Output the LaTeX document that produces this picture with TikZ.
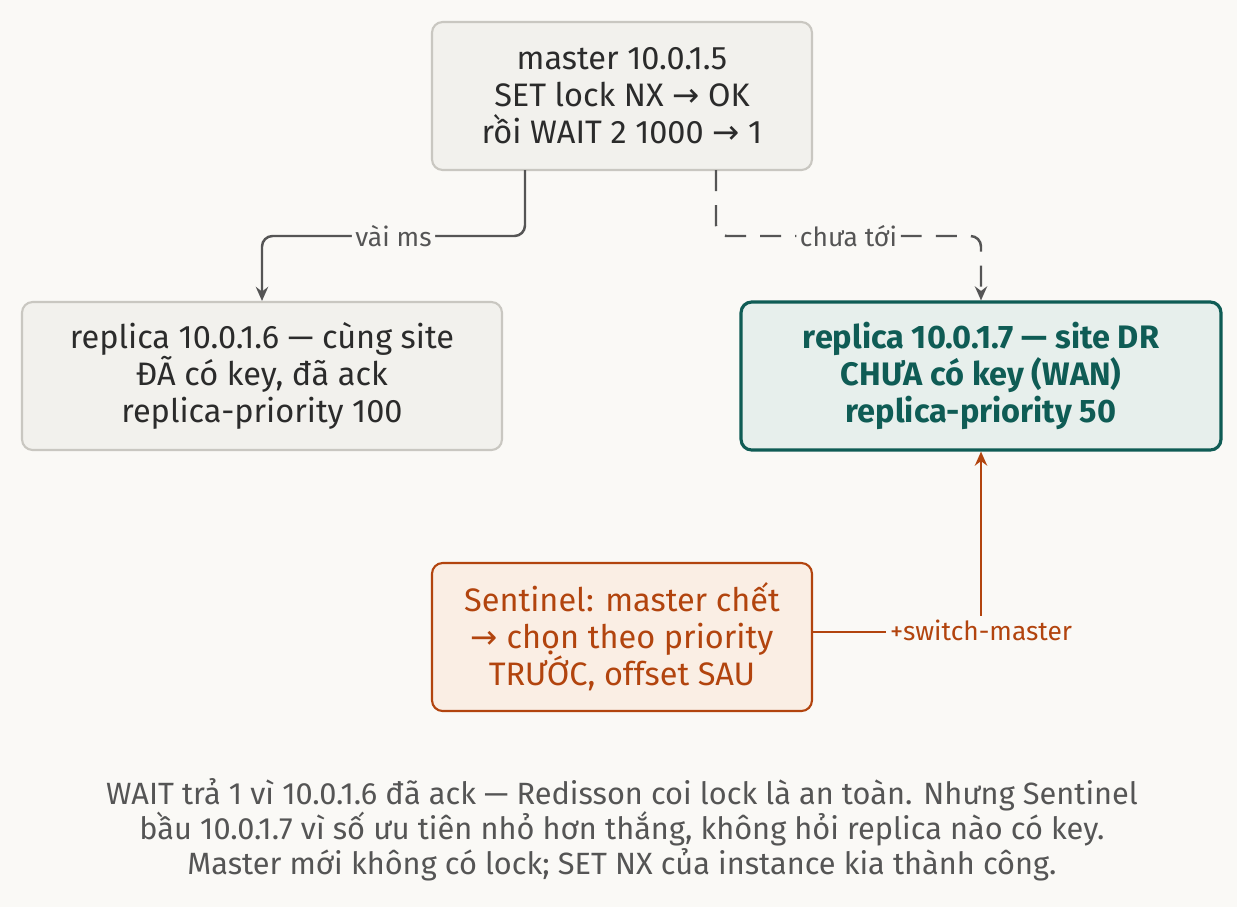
\documentclass[tikz,border=0pt]{standalone}
\usepackage{fontspec}
\setmainfont{Fira Sans}
\newfontfamily\arrfont{DejaVu Sans}
\newcommand{\arr}{{\arrfont →}}
\usepackage{xcolor}
\usetikzlibrary{arrows.meta,positioning}
\definecolor{bgc}{HTML}{FAF9F6}
\definecolor{boxfill}{HTML}{F2F1ED}
\definecolor{boxline}{HTML}{C9C7C1}
\definecolor{ink}{HTML}{2B2B2B}
\definecolor{tealc}{HTML}{0F5C55}
\definecolor{tealfill}{HTML}{E7EFEC}
\definecolor{orc}{HTML}{B2440E}
\definecolor{orfill}{HTML}{FAEEE4}
\definecolor{linec}{HTML}{555555}
\tikzset{
  box/.style={draw=boxline, fill=boxfill, line width=1.2pt, rounded corners=6pt,
    minimum width=9.6cm, minimum height=2.96cm, align=center, text=ink,
    font=\fontsize{18.5}{21}\selectfont},
  hot/.style={box, draw=tealc, fill=tealfill, line width=1.8pt, text=tealc, font=\fontsize{18.5}{21}\selectfont\bfseries},
  warn/.style={box, draw=orc, fill=orfill, text=orc, minimum width=7.6cm},
  lbl/.style={fill=bgc, inner sep=2pt, font=\fontsize{15}{17}\selectfont},
  link/.style={draw=linec, line width=1.4pt, rounded corners=6pt, -{Stealth[length=8pt,width=7pt]}}
}
\begin{document}
\begin{tikzpicture}[x=0.02cm, y=-0.02cm]
  \fill[bgc] (0,0) rectangle (1237,907);
  % boxes
  \node[box, minimum width=7.6cm] (master) at (622,96) {master 10.0.1.5\\SET lock NX \arr{} OK\\rồi WAIT 2 1000 \arr{} 1};
  \node[box] (rep_a) at (262,376) {replica 10.0.1.6 — cùng site\\ĐÃ có key, đã ack\\replica-priority 100};
  \node[hot] (rep_b) at (981,376) {replica 10.0.1.7 — site DR\\CHƯA có key (WAN)\\replica-priority 50};
  \node[warn] (sentinel) at (622,637) {Sentinel: master chết\\\arr{} chọn theo priority\\TRƯỚC, offset SAU};
  % corners
  \coordinate (m_left) at (525,170);
  \coordinate (m_right) at (716,170);
  \coordinate (s_out) at (812,632);
  % connectors
  \draw[link] (m_left) -- (525,236) -- node[lbl, text=linec, pos=0.5] {vài ms} (262,236) -- (rep_a.north);
  \draw[link, dash pattern=on 12pt off 8pt] (m_right) -- (716,236) -- node[lbl, text=linec, pos=0.5] {chưa tới} (981,236) -- (rep_b.north);
  \draw[link, draw=orc, rounded corners=0pt] (s_out) -- (981,632) -- (rep_b.south);
  \node[lbl, text=orc] (sw) at (981,630) {+switch-master};
  % caption
  \node[align=center, text=linec, font=\fontsize{17.5}{20}\selectfont] (caption) at (622,830)
    {WAIT trả 1 vì 10.0.1.6 đã ack — Redisson coi lock là an toàn. Nhưng Sentinel\\
     bầu 10.0.1.7 vì số ưu tiên nhỏ hơn thắng, không hỏi replica nào có key.\\
     Master mới không có lock; SET NX của instance kia thành công.};
\end{tikzpicture}
\end{document}
